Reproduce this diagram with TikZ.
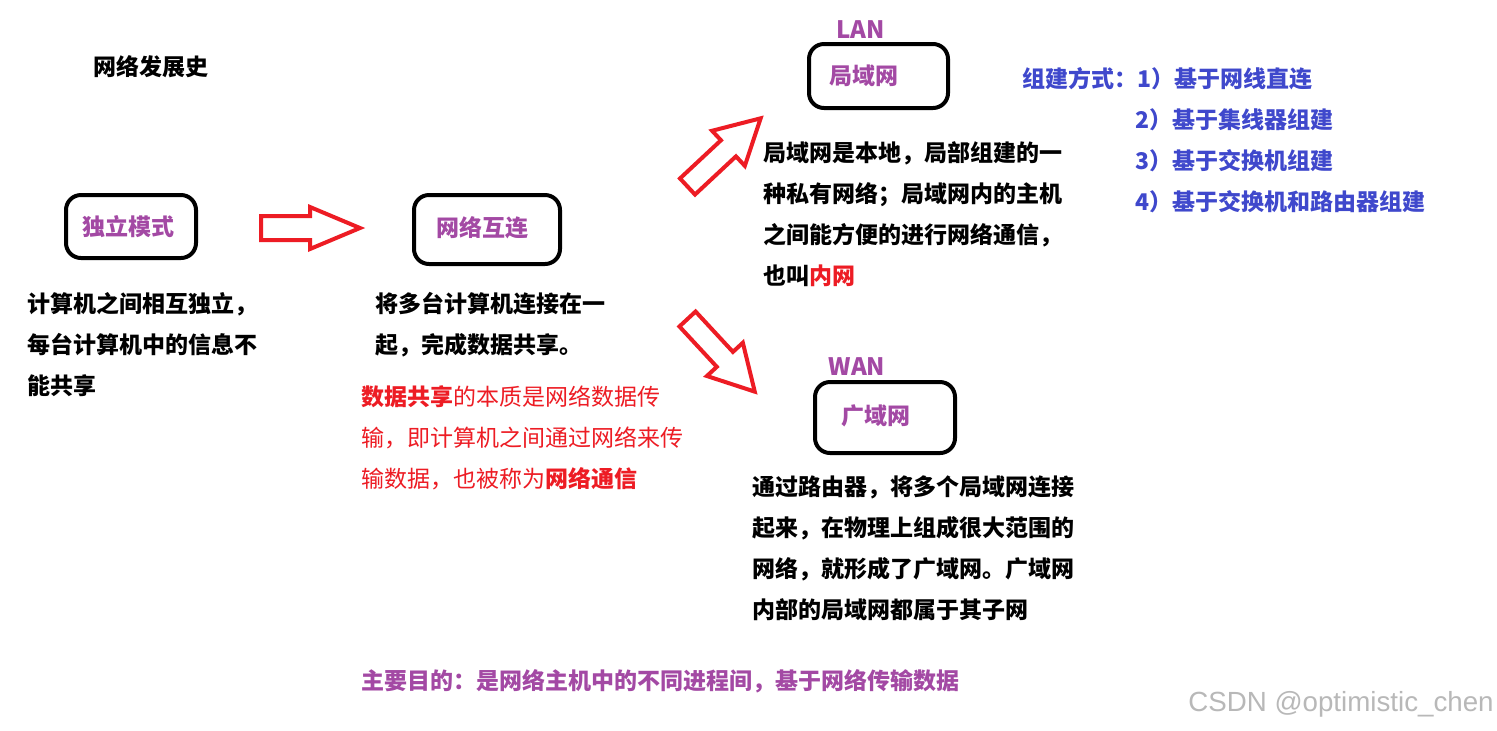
\documentclass[tikz,border=0pt]{standalone}
\usepackage{fontspec}
\setmainfont{Noto Sans CJK SC}
\newfontfamily\wmfont{Liberation Sans}
\definecolor{pp}{HTML}{A349A4}
\definecolor{rd}{HTML}{ED1C24}
\definecolor{bl}{HTML}{3F48CC}
\newcommand\blockarrow[8]{% name, tail x, tail y, angle, length, shaft half, head half, head length
  \draw[arrowst, shift={(#2,#3)}, rotate=#4] (0,-#6) -- ({#5-#8},-#6) -- ({#5-#8},-#7)
    -- (#5,0) coordinate (#1) -- ({#5-#8},#7) -- ({#5-#8},#6) -- (0,#6) -- cycle;}
\begin{document}
\begin{tikzpicture}[x=0.5pt,y=-0.5pt,
  boxst/.style={draw, line width=2pt, rounded corners=7.5pt, inner sep=0pt},
  lbl/.style={text=pp, font=\fontsize{11.5pt}{13pt}\selectfont\bfseries, inner sep=0pt},
  body/.style={font=\fontsize{11.5pt}{20.5pt}\selectfont\bfseries, align=left, anchor=north west, inner sep=0pt},
  line/.style={font=\fontsize{11.5pt}{13pt}\selectfont\bfseries, anchor=west, inner sep=0pt},
  arrowst/.style={draw=rd, line width=2pt, line join=miter}]
\useasboundingbox[fill=white] (0,0) rectangle (1497,730);

% title
\node[line] (title) at (93,67) {网络发展史};

% boxes
\node[boxst, minimum width=65pt, minimum height=31.5pt] (b1) at (131,226.5) {};
\node[boxst, minimum width=73pt, minimum height=34.5pt] (b2) at (487,229.5) {};
\node[boxst, minimum width=69.5pt, minimum height=32pt] (b3) at (878.5,76) {};
\node[boxst, minimum width=70pt, minimum height=35.5pt] (b4) at (885,417.5) {};

% box labels
\node[lbl] (l1) at (128.5,227) {独立模式};
\node[lbl] (l2) at (482,228) {网络互连};
\node[lbl] (l3) at (864,76) {局域网};
\node[lbl] (l4) at (876,416) {广域网};
\node[lbl, font=\fontsize{12pt}{14pt}\selectfont\bfseries] (lan) at (861,30) {LAN};
\node[lbl, font=\fontsize{12pt}{14pt}\selectfont\bfseries] (wan) at (857,367) {WAN};

% block arrows
\blockarrow{a1}{261}{228}{0}{99}{12}{21}{50}
\blockarrow{a2}{687.5}{186.5}{43}{100}{11}{24}{44}
\blockarrow{a3}{687.5}{319}{-47.2}{99}{11}{24.5}{44}

% descriptions
\node[body] (d1) at (27,292) {计算机之间相互独立，\\每台计算机中的信息不\\能共享};
\node[body] (d2) at (375,292) {将多台计算机连接在一\\起，完成数据共享。};
\node[body, text=rd, font=\fontsize{11.5pt}{20.5pt}\selectfont\mdseries] (d3) at (361,385)
  {{\bfseries 数据共享}的本质是网络数据传\\输，即计算机之间通过网络来传\\输数据，也被称为{\bfseries 网络通信}};
\node[body] (d4) at (763,141) {局域网是本地，局部组建的一\\种私有网络；局域网内的主机\\之间能方便的进行网络通信，\\也叫\textcolor{rd}{内网}};
\node[body] (d5) at (752,475) {通过路由器，将多个局域网连接\\起来，在物理上组成很大范围的\\网络，就形成了广域网。广域网\\内部的局域网都属于其子网};

% LAN construction list
\node[line, text=bl] (m1) at (1022,79) {组建方式：1）基于网线直连};
\node[line, text=bl] (m2) at (1135,120) {2）基于集线器组建};
\node[line, text=bl] (m3) at (1135,161) {3）基于交换机组建};
\node[line, text=bl] (m4) at (1135,202) {4）基于交换机和路由器组建};

% purpose
\node[line, text=pp] (goal) at (361,681) {主要目的：是网络主机中的不同进程间，基于网络传输数据};

% watermark
\node[anchor=west, inner sep=0pt, text=black!28, font=\wmfont\fontsize{13.85pt}{16pt}\selectfont] (wm) at (1188,704) {CSDN @optimistic\_chen};
\end{tikzpicture}
\end{document}
